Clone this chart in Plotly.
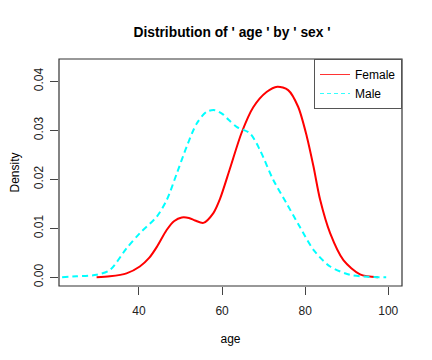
import plotly.graph_objects as go

# Female density curve
female_age = [29.8, 33, 37, 40.2, 42.5, 44.3, 46.7, 48.5, 50.3, 52, 53.5, 55.5, 57.9, 59.5, 61.9,
              64.7, 67.5, 70.7, 73.3, 75.9, 78.3, 80.4, 82, 83.6, 86, 89.2, 93.2, 97.5]
female_density = [0.0, 0.0002, 0.0008, 0.0022, 0.0040, 0.0062, 0.0097, 0.0115, 0.0122, 0.0121, 0.0116, 0.0111, 0.0131, 0.0160, 0.0222,
                  0.0295, 0.0347, 0.0378, 0.0389, 0.0382, 0.0348, 0.0287, 0.0226, 0.0158, 0.0090, 0.0035, 0.0006, 0.0]

# Male density curve
male_age = [21.5, 25, 29.8, 33, 37, 40.2, 44.3, 46.7, 49.1, 51.5, 53.9, 56.3, 58.3, 60.3, 61.5, 63.5, 66.7,
            69.1, 72.3, 75.5, 78.7, 82, 86, 90.8, 95, 99.5]
male_density = [0.0, 0.0002, 0.0005, 0.0015, 0.0059, 0.0090, 0.0124, 0.0158, 0.0212, 0.0267, 0.0314, 0.0338, 0.0341, 0.0332, 0.0322, 0.0307, 0.0294,
                0.0260, 0.0199, 0.0151, 0.0103, 0.0056, 0.0022, 0.0005, 0.0001, 0.0]

x_ticks = [40, 60, 80, 100]
y_ticks = [0.0, 0.01, 0.02, 0.03, 0.04]
y_tick_labels = ["0.00", "0.01", "0.02", "0.03", "0.04"]

FONT = "Liberation Sans, Arial, sans-serif"

# page body has an 8px margin, so the figure is 8px smaller than the window
W, H = 424, 352

fig = go.Figure()
fig.add_trace(go.Scatter(x=female_age, y=female_density, mode="lines",
                         line=dict(color="#ff0000", width=2, shape="spline", smoothing=0.8),
                         showlegend=False, hoverinfo="skip"))
fig.add_trace(go.Scatter(x=male_age, y=male_density, mode="lines",
                         line=dict(color="#00ffff", width=2, dash="6px,4px", shape="spline", smoothing=0.8),
                         showlegend=False, hoverinfo="skip"))
# legend samples (thin lines like R legend)
fig.add_trace(go.Scatter(x=[None], y=[None], mode="lines", name="Female", line=dict(color="#ff3333", width=1)))
fig.add_trace(go.Scatter(x=[None], y=[None], mode="lines", name="Male",
                         line=dict(color="#33ffff", width=1, dash="4px,3px")))

fig.update_layout(
    width=W, height=H,
    margin=dict(l=51, r=30, t=51, b=74, autoexpand=False),
    paper_bgcolor="white", plot_bgcolor="white",
    font=dict(family=FONT, size=12, color="black"),
    title=dict(text="<b>Distribution of ' age ' by ' sex '</b>", x=224 / W, xanchor="center",
               y=1 - 24 / H, yanchor="middle", font=dict(size=13.8, family=FONT, color="black")),
    legend=dict(x=1, y=1, xanchor="right", yanchor="top", bordercolor="#555", borderwidth=1,
                bgcolor="white", font=dict(size=12, family=FONT), itemwidth=30, tracegroupgap=0),
    xaxis=dict(range=[20.75, 103.3], tickvals=x_ticks, ticks="outside", ticklen=8, tickcolor="#444",
               showgrid=False, zeroline=False, showline=False, tickfont=dict(size=12, color="#222"),
               ticklabelstandoff=6, automargin=False,
               title=dict(text="age", standoff=17, font=dict(size=12))),
    yaxis=dict(range=[-0.00178, 0.04455], tickvals=y_ticks, ticktext=y_tick_labels, ticks="outside", ticklen=8,
               tickcolor="#444", tickangle=-90, showgrid=False, zeroline=False, showline=False,
               tickfont=dict(size=12, color="#222"), ticklabelstandoff=2, automargin=False,
               title=dict(text="Density", standoff=20, font=dict(size=12))),
    shapes=[dict(type="rect", xref="paper", yref="paper", x0=0, y0=0, x1=1, y1=1,
                 line=dict(color="#333", width=1.2))],
)

fig.write_html("out.html")
